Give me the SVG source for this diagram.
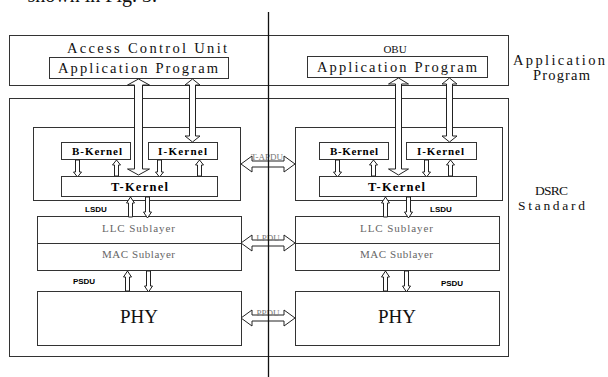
<svg xmlns="http://www.w3.org/2000/svg" width="608" height="377" viewBox="0 0 608 377">
<style>
.box{fill:#fff;stroke:#333;stroke-width:1}
.ar{fill:#fff;stroke:#222;stroke-width:1}
.t{font-family:"Liberation Serif","DejaVu Serif",serif;fill:#111}
.k{font-family:"Liberation Serif","DejaVu Serif",serif;font-weight:bold;fill:#000}
.sm{font-family:"Liberation Sans","DejaVu Sans",sans-serif;font-weight:bold;font-size:8px;fill:#000}
.gray{font-family:"Liberation Serif","DejaVu Serif",serif;font-size:11px;fill:#666}
.pl{font-family:"Liberation Serif","DejaVu Serif",serif;font-size:9px;fill:#777}
</style>
<rect width="608" height="377" fill="#fff"/>
<text class="t" x="157" y="2" font-size="20" text-anchor="end">shown in Fig. 3.</text>

<g id="acu">
<rect class="box" x="9.5" y="35.5" width="499" height="50"/>
<text class="t" x="67" y="53" font-size="14.5" textLength="160" lengthAdjust="spacing">Access Control Unit</text>
</g>
<g id="acu-app">
<rect class="box" x="49.5" y="57.5" width="179" height="21"/>
<text class="t" x="58" y="73" font-size="14.5" textLength="160" lengthAdjust="spacing">Application Program</text>
</g>
<g id="obu">
<text class="t" x="395" y="53" font-size="11" text-anchor="middle">OBU</text>
</g>
<g id="obu-app">
<rect class="box" x="307.5" y="56.5" width="180" height="21"/>
<text class="t" x="317" y="72" font-size="14.5" textLength="160" lengthAdjust="spacing">Application Program</text>
</g>
<g id="label-app">
<text class="t" x="513" y="65" font-size="14.5" textLength="92" lengthAdjust="spacing">Application</text>
<text class="t" x="533" y="80" font-size="14.5" textLength="57" lengthAdjust="spacing">Program</text>
</g>
<g id="dsrc">
<rect class="box" x="9.5" y="98.5" width="499" height="258"/>
</g>
<g id="label-dsrc">
<text class="t" x="535" y="195" font-size="13.5" textLength="33" lengthAdjust="spacing">DSRC</text>
<text class="t" x="518" y="210" font-size="13.5" textLength="67" lengthAdjust="spacing">Standard</text>
</g>

<g id="left-app-layer">
<rect class="box" x="33.5" y="127.5" width="207" height="73"/>
</g>
<g id="left-b-kernel">
<rect class="box" x="61.5" y="142.5" width="69" height="17"/>
<text class="k" x="72" y="154.5" font-size="11" textLength="50" lengthAdjust="spacing">B-Kernel</text>
</g>
<g id="left-i-kernel">
<rect class="box" x="148.5" y="142.5" width="69" height="17"/>
<text class="k" x="158" y="154.5" font-size="11" textLength="49" lengthAdjust="spacing">I-Kernel</text>
</g>
<g id="left-t-kernel">
<rect class="box" x="61.5" y="176.5" width="156" height="20"/>
<text class="k" x="111" y="190.5" font-size="12.5" textLength="57" lengthAdjust="spacing">T-Kernel</text>
</g>
<g id="left-llc-mac">
<rect class="box" x="37.5" y="216.5" width="204" height="54"/>
<line x1="37.5" y1="243.5" x2="241.5" y2="243.5" stroke="#333"/>
<text class="gray" x="102" y="232" textLength="73" lengthAdjust="spacing">LLC Sublayer</text>
<text class="gray" x="102" y="258" textLength="73" lengthAdjust="spacing">MAC Sublayer</text>
</g>
<g id="left-phy">
<rect class="box" x="37.5" y="291.5" width="204" height="54"/>
<text class="t" x="139" y="323" font-size="19" fill="#222" text-anchor="middle">PHY</text>
</g>

<g id="right-app-layer">
<rect class="box" x="295.5" y="127.5" width="207" height="73"/>
</g>
<g id="right-b-kernel">
<rect class="box" x="319.5" y="142.5" width="69" height="17"/>
<text class="k" x="330" y="154.5" font-size="11" textLength="48" lengthAdjust="spacing">B-Kernel</text>
</g>
<g id="right-i-kernel">
<rect class="box" x="406.5" y="142.5" width="70" height="17"/>
<text class="k" x="417" y="154.5" font-size="11" textLength="47" lengthAdjust="spacing">I-Kernel</text>
</g>
<g id="right-t-kernel">
<rect class="box" x="319.5" y="176.5" width="157" height="20"/>
<text class="k" x="368" y="190.5" font-size="12.5" textLength="57" lengthAdjust="spacing">T-Kernel</text>
</g>
<g id="right-llc-mac">
<rect class="box" x="295.5" y="216.5" width="204" height="54"/>
<line x1="295.5" y1="243.5" x2="499.5" y2="243.5" stroke="#333"/>
<text class="gray" x="360" y="232" textLength="73" lengthAdjust="spacing">LLC Sublayer</text>
<text class="gray" x="360" y="258" textLength="73" lengthAdjust="spacing">MAC Sublayer</text>
</g>
<g id="right-phy">
<rect class="box" x="295.5" y="291.5" width="204" height="54"/>
<text class="t" x="397" y="323" font-size="19" fill="#222" text-anchor="middle">PHY</text>
</g>

<g id="connectors">
<polygon class="ar" points="138.5,79 149.5,85 142.5,85 142.5,169 149.5,169 138.5,175 127.5,169 134.5,169 134.5,85 127.5,85"/>
<polygon class="ar" points="192.5,79 200,85 195.5,85 195.5,136 200,136 192.5,142 185,136 189.5,136 189.5,85 185,85"/>
<polygon class="ar" points="398.5,78 408.5,84 401.5,84 401.5,169 408.5,169 398.5,175 388.5,169 395.5,169 395.5,84 388.5,84"/>
<polygon class="ar" points="449.5,78 457,84 452.5,84 452.5,136 457,136 449.5,142 442,136 446.5,136 446.5,84 442,84"/>
<polygon class="ar" points="75.5,160 79.5,160 79.5,172 81.5,172 77.5,177 73.5,172 75.5,172"/>
<polygon class="ar" points="114.5,176 118.5,176 118.5,165 120.5,165 116.5,160 112.5,165 114.5,165"/>
<polygon class="ar" points="157.5,160 161.5,160 161.5,172 163.5,172 159.5,177 155.5,172 157.5,172"/>
<polygon class="ar" points="197.5,176 201.5,176 201.5,165 203.5,165 199.5,160 195.5,165 197.5,165"/>
<polygon class="ar" points="335.5,160 339.5,160 339.5,172 341.5,172 337.5,177 333.5,172 335.5,172"/>
<polygon class="ar" points="371.5,176 375.5,176 375.5,165 377.5,165 373.5,160 369.5,165 371.5,165"/>
<polygon class="ar" points="424.5,160 428.5,160 428.5,172 430.5,172 426.5,177 422.5,172 424.5,172"/>
<polygon class="ar" points="448.5,176 452.5,176 452.5,165 454.5,165 450.5,160 446.5,165 448.5,165"/>
<polygon class="ar" points="128.5,217 132.5,217 132.5,203 134.5,203 130.5,197 126.5,203 128.5,203"/>
<polygon class="ar" points="145.5,197 149.5,197 149.5,212 151.5,212 147.5,218 143.5,212 145.5,212"/>
<polygon class="ar" points="383.5,217 387.5,217 387.5,203 389.5,203 385.5,197 381.5,203 383.5,203"/>
<polygon class="ar" points="406.5,197 410.5,197 410.5,212 412.5,212 408.5,218 404.5,212 406.5,212"/>
<polygon class="ar" points="125.5,291 129.5,291 129.5,277 131.5,277 127.5,271 123.5,277 125.5,277"/>
<polygon class="ar" points="146.5,271 150.5,271 150.5,286 152.5,286 148.5,292 144.5,286 146.5,286"/>
<polygon class="ar" points="383.5,291 387.5,291 387.5,277 389.5,277 385.5,271 381.5,277 383.5,277"/>
<polygon class="ar" points="404.5,271 408.5,271 408.5,286 410.5,286 406.5,292 402.5,286 404.5,286"/>
<polygon class="ar" points="241,164 252,156 252,161 284,161 284,156 295,164 284,172 284,167 252,167 252,172"/>
<polygon class="ar" points="241,243 252,235 252,240 284,240 284,235 295,243 284,251 284,246 252,246 252,251"/>
<polygon class="ar" points="241,318 252,310 252,315 284,315 284,310 295,318 284,326 284,321 252,321 252,326"/>
<text class="pl" x="267" y="160" text-anchor="middle">T-APDU</text>
<text class="pl" x="268" y="241" text-anchor="middle">LPDU</text>
<text class="pl" x="268" y="316" text-anchor="middle">PPDU</text>
<text class="sm" x="96" y="212" text-anchor="middle">LSDU</text>
<text class="sm" x="441" y="212" text-anchor="middle">LSDU</text>
<text class="sm" x="84" y="284" text-anchor="middle">PSDU</text>
<text class="sm" x="452" y="286" text-anchor="middle">PSDU</text>
</g>
<line x1="268.5" y1="12" x2="268.5" y2="377" stroke="#111" stroke-width="1.3"/>
</svg>
